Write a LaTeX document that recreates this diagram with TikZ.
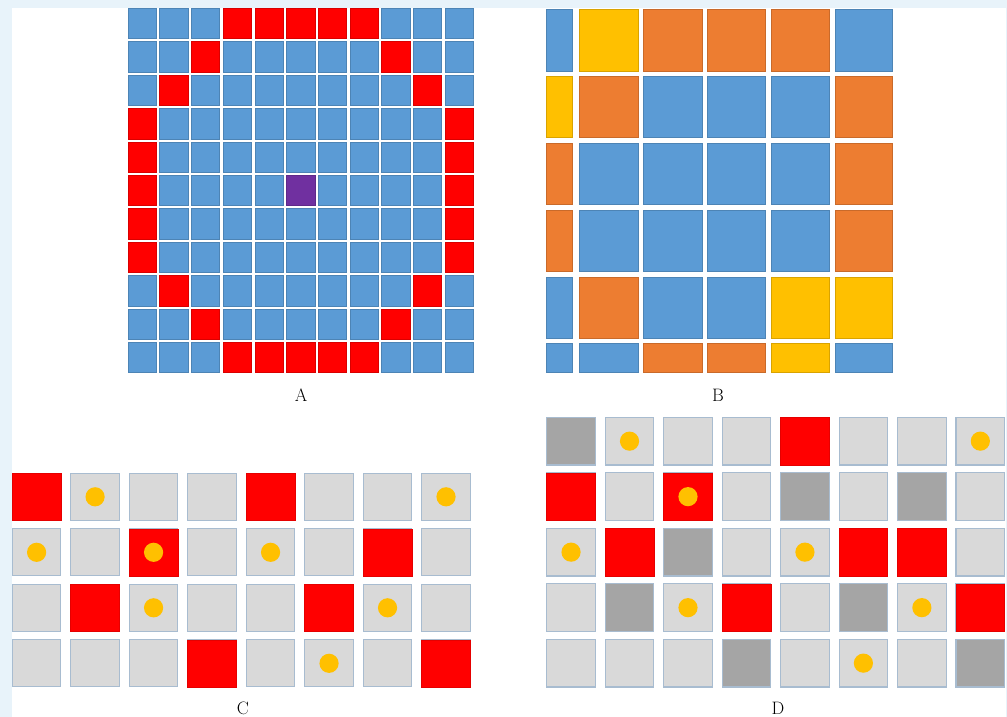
\documentclass[tikz,border=0pt]{standalone}
\definecolor{bgband}{RGB}{232,243,250}
\definecolor{Bl}{RGB}{91,155,213}
\definecolor{Or}{RGB}{237,125,49}
\definecolor{Ye}{RGB}{255,192,0}
\definecolor{Rd}{RGB}{255,0,0}
\definecolor{Pu}{RGB}{112,48,160}
\definecolor{Lg}{RGB}{217,217,217}
\definecolor{Dg}{RGB}{165,165,165}
\definecolor{Edge}{RGB}{168,188,208}
\tikzset{
  acell/.style={fill=#1, draw=#1!85!black, line width=0.6pt},
  bcell/.style={fill=#1, draw=#1!85!black, line width=0.6pt},
  gcell/.style={fill=#1, draw=Edge, line width=1.1pt},
  rcell/.style={fill=Rd, draw=Rd!90!black, line width=0.6pt},
  dot/.style={fill=Ye, draw=none},
  lab/.style={font=\fontsize{18}{20}\selectfont, inner sep=0pt}
}
\begin{document}
\begin{tikzpicture}[x=1pt,y=-1pt]
\useasboundingbox (0,0) rectangle (1007,717);
\fill[bgband] (0,0) rectangle (1007,717);
\fill[white] (12,8) rectangle (1006,717);
% ---------- Panel A ----------
\def\AX{128} \def\AY{8.3} \def\APX{31.7} \def\APY{33.4} \def\AW{28.3} \def\AH{30.3}
\foreach \r in {0,...,10}{
  \foreach \c in {0,...,10}{
    \path[acell=Bl] ({\AX+\c*\APX},{\AY+\r*\APY}) rectangle ++(\AW,\AH);
  }
}
\foreach \c/\r in {3/0,4/0,5/0,6/0,7/0,2/1,8/1,1/2,9/2,0/3,0/4,0/5,0/6,0/7,10/3,10/4,10/5,10/6,10/7,1/8,9/8,2/9,8/9,3/10,4/10,5/10,6/10,7/10}{
  \path[acell=Rd] ({\AX+\c*\APX},{\AY+\r*\APY}) rectangle ++(\AW,\AH);
}
\path[acell=Pu] ({\AX+5*\APX},{\AY+5*\APY}) rectangle ++(\AW,\AH);
\node[lab] (labA) at (301,395) {A};
% ---------- Panel B ----------
\foreach \ya/\yb/\cols in {9.3/71/{Bl,Ye,Or,Or,Or,Bl},
                           76.7/137.3/{Ye,Or,Bl,Bl,Bl,Or},
                           143.3/204.3/{Or,Bl,Bl,Bl,Bl,Or},
                           210/271/{Or,Bl,Bl,Bl,Bl,Or},
                           277/338/{Bl,Or,Bl,Bl,Ye,Ye},
                           343.3/372.7/{Bl,Bl,Or,Or,Ye,Bl}}{
  \foreach \col [count=\i from 0] in \cols {
    \pgfmathsetmacro\xa{{546.7,579,643.7,707,771,835.7}[\i]}
    \pgfmathsetmacro\xb{{572.7,638,702.3,765.7,829.7,892.3}[\i]}
    \path[bcell=\col] (\xa,\ya) rectangle (\xb,\yb);
  }
}
\node[lab] (labB) at (718,395) {B};
% ---------- Panel C ----------
\def\CX{12.3} \def\CY{473.3} \def\CPX{58.49} \def\CPY{55.5} \def\CW{48.6} \def\CH{47}
\foreach \r in {0,...,3}{
  \foreach \c in {0,...,7}{
    \path[gcell=Lg] ({\CX+\c*\CPX},{\CY+\r*\CPY}) rectangle ++(\CW,\CH);
  }
}
\foreach \c/\r in {0/0,4/0,2/1,6/1,1/2,5/2,3/3,7/3}{
  \path[rcell] ({\CX+\c*\CPX},{\CY+\r*\CPY}) rectangle ++(\CW,\CH);
}
\foreach \c/\r in {1/0,7/0,0/1,2/1,4/1,2/2,6/2,5/3}{
  \path[dot] ({\CX+\c*\CPX+\CW/2},{\CY+\r*\CPY+\CH/2}) circle (9.6);
}
\node[lab] (labC) at (243,708) {C};
% ---------- Panel D ----------
\def\DX{546.7} \def\DY{417.3} \def\DPX{58.47} \def\DPY{55.5} \def\DW{48.7} \def\DH{47.7}
\foreach \r in {0,...,4}{
  \foreach \c in {0,...,7}{
    \path[gcell=Lg] ({\DX+\c*\DPX},{\DY+\r*\DPY}) rectangle ++(\DW,\DH);
  }
}
\foreach \c/\r in {0/0,4/1,6/1,2/2,1/3,5/3,3/4,7/4}{
  \path[gcell=Dg] ({\DX+\c*\DPX},{\DY+\r*\DPY}) rectangle ++(\DW,\DH);
}
\foreach \c/\r in {4/0,0/1,2/1,1/2,5/2,6/2,3/3,7/3}{
  \path[rcell] ({\DX+\c*\DPX},{\DY+\r*\DPY}) rectangle ++(\DW,\DH);
}
\foreach \c/\r in {1/0,7/0,2/1,0/2,4/2,2/3,6/3,5/4}{
  \path[dot] ({\DX+\c*\DPX+\DW/2},{\DY+\r*\DPY+\DH/2}) circle (9.6);
}
\node[lab] (labD) at (778,708) {D};
\end{tikzpicture}
\end{document}
